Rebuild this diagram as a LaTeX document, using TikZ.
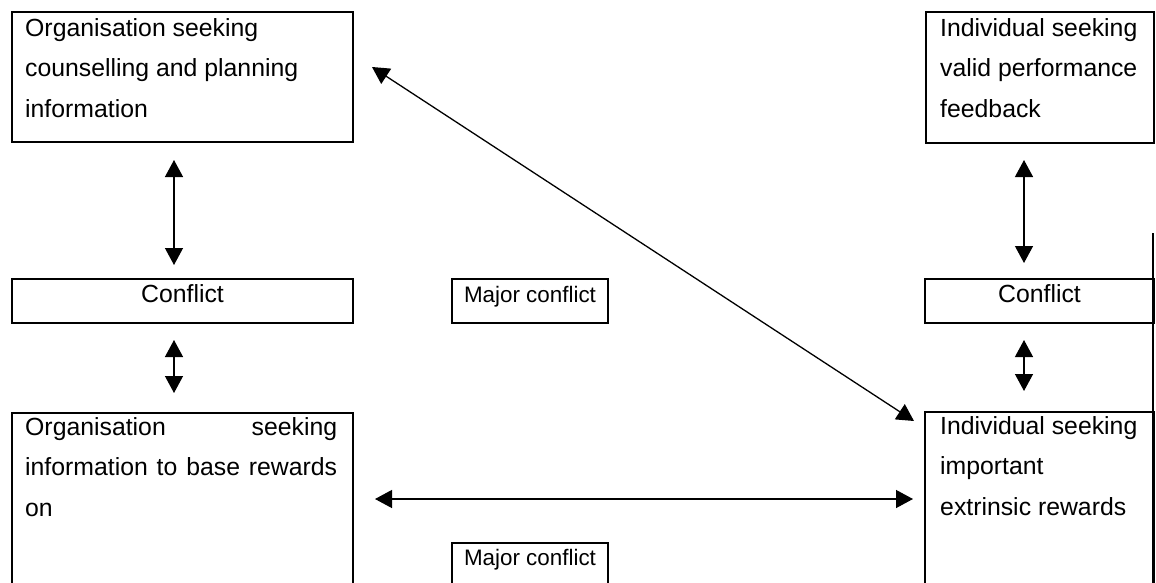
\documentclass[tikz,border=0pt]{standalone}
\usepackage{fontspec}
\setmainfont{Liberation Sans}
\usetikzlibrary{arrows.meta,calc}
\begin{document}
\begin{tikzpicture}[x=1pt,y=-1pt,
  frame/.style={draw, line width=2pt, inner sep=0pt, anchor=north west},
  txt/.style={inner sep=0pt, anchor=base west, font=\fontsize{24.8}{37.2}\selectfont},
  ctxt/.style={inner sep=0pt, anchor=base, font=\fontsize{24.8}{37.2}\selectfont},
  mtxt/.style={inner sep=0pt, anchor=base, font=\fontsize{22.4}{26}\selectfont},
  link/.style={line width=1.3pt, {Triangle[length=17pt,width=18pt]}-{Triangle[length=17pt,width=18pt]}}
]
\useasboundingbox (0,0) rectangle (1156,582);
\clip (0,0) rectangle (1156,582);

% boxes
\node[frame, minimum width=341, minimum height=130] (tl)  at (11,11)   {};
\node[frame, minimum width=228, minimum height=131] (tr)  at (925,11)  {};
\node[frame, minimum width=341, minimum height=44]  (lc)  at (11,278)  {};
\node[frame, minimum width=156, minimum height=44]  (mc1) at (451,278) {};
\node[frame, minimum width=229, minimum height=44]  (rc)  at (924,278) {};
\node[frame, minimum width=341, minimum height=200] (bl)  at (11,412)  {};
\node[frame, minimum width=156, minimum height=60]  (mc2) at (451,542) {};
\node[frame, minimum width=229, minimum height=200] (br)  at (924,411) {};

% right-hand rule running down the page
\coordinate (edgetop) at (1153,233);
\draw[line width=2pt] (edgetop) -- (edgetop |- br.south);

% box texts
\node[txt] (tl1) at ($(tl.north west)+(14,25)$)   {Organisation seeking};
\node[txt] (tl2) at ($(tl.north west)+(14,65.5)$) {counselling and planning};
\node[txt] (tl3) at ($(tl.north west)+(14,106)$)  {information};

\node[txt] (tr1) at ($(tr.north west)+(15,25)$)   {Individual seeking};
\node[txt] (tr2) at ($(tr.north west)+(15,65.5)$) {valid performance};
\node[txt] (tr3) at ($(tr.north west)+(15,106)$)  {feedback};

\node[txt] (bl1) at ($(bl.north west)+(14,23)$)   {\makebox[312pt][s]{Organisation seeking}};
\node[txt] (bl2) at ($(bl.north west)+(14,63.5)$) {\makebox[312pt][s]{information to base rewards}};
\node[txt] (bl3) at ($(bl.north west)+(14,104)$)  {on};

\node[txt] (br1) at ($(br.north west)+(16,23)$)   {Individual seeking};
\node[txt] (br2) at ($(br.north west)+(16,63.5)$) {important};
\node[txt] (br3) at ($(br.north west)+(16,104)$)  {extrinsic rewards};

\node[ctxt] (lct)  at ($(lc.north)+(0,24.7)$)  {Conflict};
\node[mtxt] (mc1t) at ($(mc1.north)+(0,24)$)   {Major conflict};
\node[ctxt] (rct)  at ($(rc.north)+(0,24.7)$)  {Conflict};
\node[mtxt] (mc2t) at ($(mc2.north)+(0,23.5)$) {Major conflict};

% connectors
\draw[link] ($(tl.south)+(-8.5,17)$) -- ($(lc.north)+(-8.5,-13)$);
\draw[link] ($(lc.south)+(-8.5,16)$) -- ($(bl.north)+(-8.5,-19)$);
\draw[link] ($(tr.south)+(-16,16)$) -- ($(rc.north)+(-15.5,-15)$);
\draw[link] ($(rc.south)+(-15.5,16)$) -- ($(br.north)+(-15.5,-20)$);
\draw[link] ($(tl.north east)+(18,56)$) -- ($(br.north west)+(-10,10)$);
\draw[link] ($(bl.north east)+(21,87)$) -- ($(br.north west)+(-11,88)$);
\end{tikzpicture}
\end{document}
